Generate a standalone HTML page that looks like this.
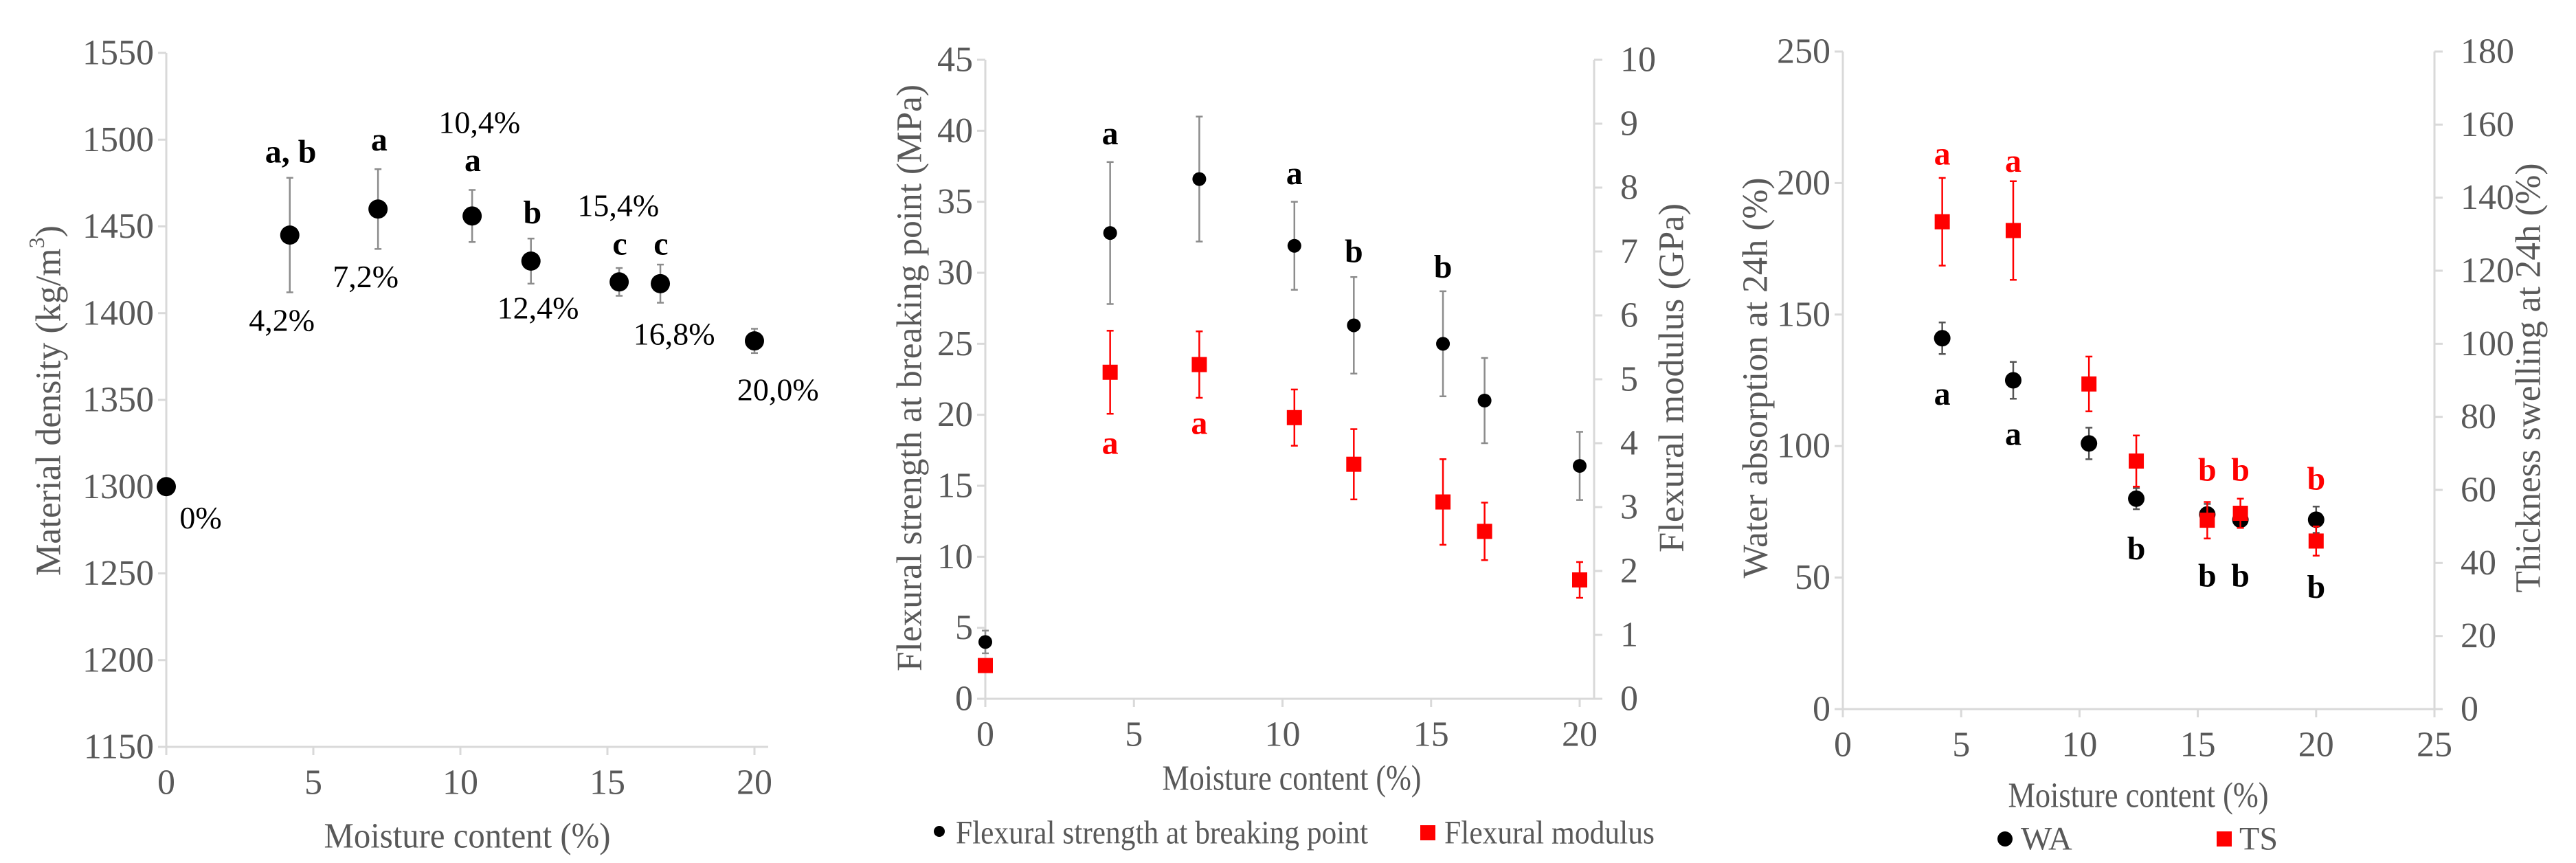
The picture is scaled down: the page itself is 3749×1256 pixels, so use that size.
<!DOCTYPE html>
<html><head><meta charset="utf-8"><style>
html,body{margin:0;padding:0;background:#fff}
svg{display:block}
svg text{font-family:"Liberation Serif","Nimbus Roman","Times New Roman","DejaVu Serif",serif}
</style></head><body>
<svg id="s" width="3749" height="1256" viewBox="0 0 3749 1256"></svg>
<script>
// ---- Chart 1: density ----
const c1X=[0,4.2,7.2,10.4,12.4,15.4,16.8,20];
const c1Y=[1300,1445,1460,1456,1430,1418,1417,1384];
const c1Err=[0,33,23,15,13,8,11,7];
const c1Ticks=[1150,1200,1250,1300,1350,1400,1450,1500,1550];
const c1XTicks=[0,5,10,15,20];
const c1Letters=["a, b","a","a","b","c","c"];
const c1LetterX=[4.23,7.24,10.42,12.45,15.42,16.82];
const c1LetterY=[1493,1500,1488,1458,1440,1440];
const c1Pct=["0%","4,2%","7,2%","10,4%","12,4%","15,4%","16,8%","20,0%"];
const c1PctX=[1.17,3.93,6.78,10.65,12.64,15.37,17.27,20.8];
const c1PctY=[1282,1396,1421,1510,1403,1462,1388,1356];
// ---- Chart 2: flexural ----
const c2X=[0,4.2,7.2,10.4,12.4,15.4,16.8,20];
const c2Str=[4,32.8,36.6,31.9,26.3,25,21,16.4];
const c2StrErr=[0.8,5,4.4,3.1,3.4,3.7,3,2.4];
const c2Mod=[0.52,5.11,5.23,4.4,3.67,3.08,2.62,1.86];
const c2ModErr=[0,0.65,0.52,0.44,0.55,0.67,0.45,0.28];
const c2LTicks=[0,5,10,15,20,25,30,35,40,45];
const c2RTicks=[0,1,2,3,4,5,6,7,8,9,10];
const c2XTicks=[0,5,10,15,20];
const c2BLetters=["a","a","b","b"];const c2BLX=[4.2,10.4,12.4,15.4];const c2BLY=[39.8,37,31.5,30.4];
const c2RLetters=["a","a"];const c2RLX=[4.2,7.2];const c2RLY=[18,19.4];
// ---- Chart 3: WA / TS ----
const c3X=[4.2,7.2,10.4,12.4,15.4,16.8,20];
const c3WA=[141,125,101,80,74,72,72];
const c3WAErr=[6,7,6,4,4,3,5];
const c3TS=[133.4,131,89,67.9,51.7,53.6,46];
const c3TSErr=[12,13.5,7.5,7,5,4,4];
const c3LTicks=[0,50,100,150,200,250];
const c3RTicks=[0,20,40,60,80,100,120,140,160,180];
const c3XTicks=[0,5,10,15,20,25];
const c3RLetters=["a","a","b","b","b"];const c3RLX=[4.2,7.2,15.4,16.8,20];const c3RLY=[152,150,65.5,65.5,63];
const c3BLetters=["a","a","b","b","b","b"];const c3BLX=[4.2,7.2,12.4,15.4,16.8,20];const c3BLY=[119.8,104.5,61,50.7,50.7,46.4];

const S=document.getElementById('s');const NS='http://www.w3.org/2000/svg';
function el(t,a,txt){const e=document.createElementNS(NS,t);for(const k in a)e.setAttribute(k,a[k]);if(txt!==undefined)e.textContent=txt;S.appendChild(e);return e;}
function lin(d0,d1,p0,p1){return v=>p0+(v-d0)/(d1-d0)*(p1-p0);}
const AX='#d9d9d9',TX='#595959',EB='#8c8c8c';
function txt(x,y,s,o){const e=el('text',Object.assign({x:x,y:y,'font-size':52,fill:TX,'text-anchor':'middle','dominant-baseline':'central'},o||{}),s);return e;}
function fit(w){return {textLength:w,lengthAdjust:'spacingAndGlyphs'};}
function axes(x0,x1,yTop,yBot,xs,xTicks,ys,yTicks,rightX,ys2,rTicks){
  let e=el('line',{x1:x0,y1:yTop,x2:x0,y2:yBot,stroke:AX,'stroke-width':3});
  
  e=el('line',{x1:x0,y1:yBot,x2:x1,y2:yBot,stroke:AX,'stroke-width':3});
  
  yTicks.forEach(v=>{el('line',{x1:x0-12,x2:x0,y1:ys(v),y2:ys(v),stroke:AX,'stroke-width':3});
    e=txt(x0-18,ys(v),String(v),{'text-anchor':'end'});
    });
  xTicks.forEach(v=>{el('line',{x1:xs(v),x2:xs(v),y1:yBot,y2:yBot+12,stroke:AX,'stroke-width':3});
    e=txt(xs(v),yBot+52,String(v));
    });
  if(rightX){e=el('line',{x1:rightX,y1:yTop,x2:rightX,y2:yBot,stroke:AX,'stroke-width':3});
    
    rTicks.forEach(v=>{el('line',{x1:rightX,x2:rightX+12,y1:ys2(v),y2:ys2(v),stroke:AX,'stroke-width':3});
      e=txt(rightX+38,ys2(v),String(v),{'text-anchor':'start'});
      });}
}
function errbar(x,y1,y2,c){el('line',{x1:x,x2:x,y1:y1,y2:y2,stroke:c,'stroke-width':2.5});
  el('line',{x1:x-5,x2:x+5,y1:y1,y2:y1,stroke:c,'stroke-width':2.5});el('line',{x1:x-5,x2:x+5,y1:y2,y2:y2,stroke:c,'stroke-width':2.5});}
function dot(x,y,r){const e=el('circle',{cx:x,cy:y,r:r,fill:'#000'});return e;}
function sq(x,y,h){const e=el('rect',{x:x-h,y:y-h,width:2*h,height:2*h,fill:'#f00'});return e;}
let e;
// Chart 1
{const xs=lin(0,20,242,1098),ys=lin(1150,1550,1087,77);
axes(242,1118,77,1087,xs,c1XTicks,ys,c1Ticks);
c1X.forEach((x,i)=>{if(c1Err[i])errbar(xs(x),ys(c1Y[i]-c1Err[i]),ys(c1Y[i]+c1Err[i]),EB);
  e=dot(xs(x),ys(c1Y[i]),14);});
c1Letters.forEach((s,i)=>{e=txt(xs(c1LetterX[i]),ys(c1LetterY[i]),s,{fill:'#000','font-weight':'bold','font-size':48});
  });
c1Pct.forEach((s,i)=>{e=txt(xs(c1PctX[i]),ys(c1PctY[i]),s,{fill:'#000','font-size':46});
  });
e=txt(680,1217,'Moisture content (%)',fit(417));
e=el('text',{x:0,y:0,'font-size':52,fill:TX,'text-anchor':'middle','dominant-baseline':'central',transform:'translate(71,583) rotate(-90)'});
e.innerHTML='Material density (kg/m<tspan baseline-shift="super" font-size="32">3</tspan>)';
}
// Chart 2
{const xs=lin(0,20,1434,2299),ys=lin(0,45,1017,87),ys2=lin(0,10,1017,87);
axes(1434,2320,87,1017,xs,c2XTicks,ys,c2LTicks,2320,ys2,c2RTicks);
c2X.forEach((x,i)=>{errbar(xs(x),ys(c2Str[i]-c2StrErr[i]),ys(c2Str[i]+c2StrErr[i]),EB);
  e=dot(xs(x),ys(c2Str[i]),10);});
c2X.forEach((x,i)=>{if(c2ModErr[i])errbar(xs(x),ys2(c2Mod[i]-c2ModErr[i]),ys2(c2Mod[i]+c2ModErr[i]),'#f00');
  e=sq(xs(x),ys2(c2Mod[i]),11);});
c2BLetters.forEach((s,i)=>{e=txt(xs(c2BLX[i]),ys(c2BLY[i]),s,{fill:'#000','font-weight':'bold','font-size':48});
  });
c2RLetters.forEach((s,i)=>{e=txt(xs(c2RLX[i]),ys(c2RLY[i]),s,{fill:'#f00','font-weight':'bold','font-size':48});
  });
e=txt(1880,1133,'Moisture content (%)',fit(377));
e=txt(0,0,'Flexural strength at breaking point (MPa)',Object.assign({transform:'translate(1324,550) rotate(-90)'},fit(854)));
e=txt(0,0,'Flexural modulus (GPa)',Object.assign({transform:'translate(2433,550) rotate(-90)'},fit(508)));
e=dot(1367,1210,8);
e=txt(1391,1212,'Flexural strength at breaking point',Object.assign({'text-anchor':'start','font-size':48},fit(600)));
e=sq(2078,1212,11);
e=txt(2102,1212,'Flexural modulus',Object.assign({'text-anchor':'start','font-size':48},fit(306)));}
// Chart 3
{const xs=lin(0,25,2682,3543),ys=lin(0,250,1032,75),ys2=lin(0,180,1032,75);
axes(2682,3543,75,1032,xs,c3XTicks,ys,c3LTicks,3543,ys2,c3RTicks);
c3X.forEach((x,i)=>{errbar(xs(x),ys(c3WA[i]-c3WAErr[i]),ys(c3WA[i]+c3WAErr[i]),'#555');
  e=dot(xs(x),ys(c3WA[i]),12);});
c3X.forEach((x,i)=>{errbar(xs(x),ys2(c3TS[i]-c3TSErr[i]),ys2(c3TS[i]+c3TSErr[i]),'#f00');
  e=sq(xs(x),ys2(c3TS[i]),11);});
c3RLetters.forEach((s,i)=>{e=txt(xs(c3RLX[i]),ys2(c3RLY[i]),s,{fill:'#f00','font-weight':'bold','font-size':48});
  });
c3BLetters.forEach((s,i)=>{e=txt(xs(c3BLX[i]),ys(c3BLY[i]),s,{fill:'#000','font-weight':'bold','font-size':48});
  });
e=txt(3112,1158,'Moisture content (%)',fit(379));
e=txt(0,0,'Water absorption at 24h (%)',Object.assign({transform:'translate(2555,550) rotate(-90)'},fit(583)));
e=txt(0,0,'Thickness swelling at 24h (%)',Object.assign({transform:'translate(3680,550) rotate(-90)'},fit(625)));
e=dot(2918,1221,11);
e=txt(2941,1221,'WA',{'text-anchor':'start','font-size':48});
e=sq(3237,1221,11);
e=txt(3259,1221,'TS',{'text-anchor':'start','font-size':48});}
</script>
</body></html>
